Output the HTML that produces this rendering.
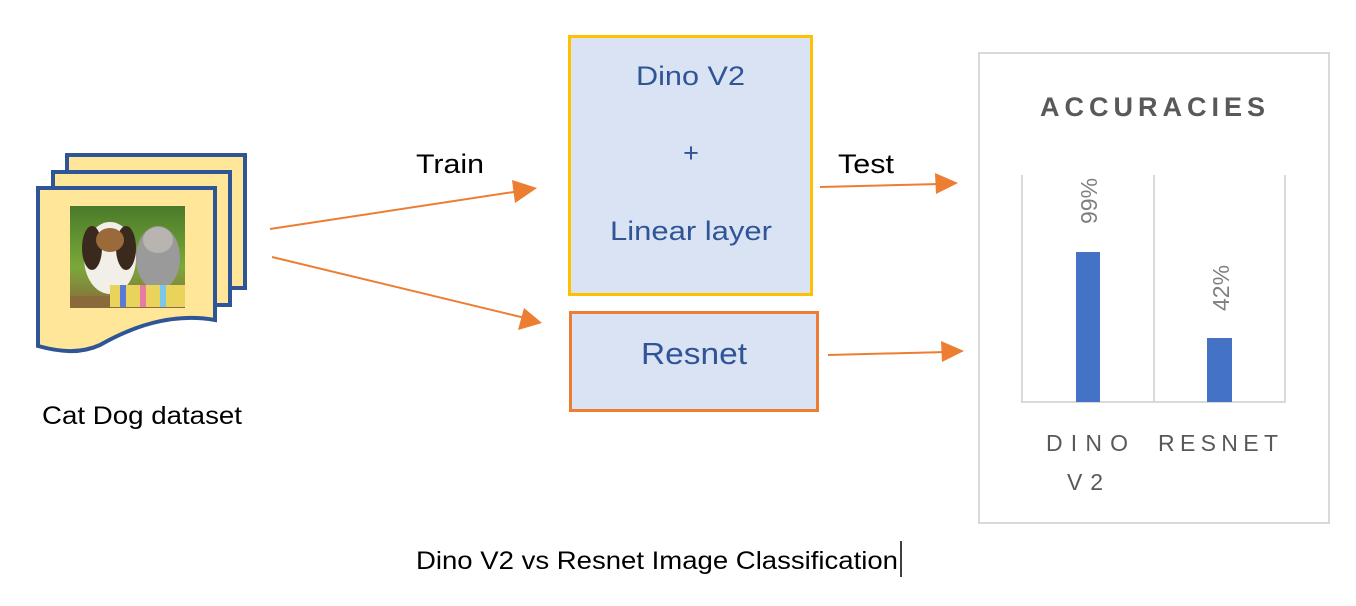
<!DOCTYPE html>
<html><head><meta charset="utf-8"><style>
html,body{margin:0;padding:0;background:#fff;width:1356px;height:606px;overflow:hidden}
svg text{font-family:"Liberation Sans",sans-serif}
</style></head><body>
<svg width="1356" height="606" viewBox="0 0 1356 606" xmlns="http://www.w3.org/2000/svg">
<defs>
<linearGradient id="bg" x1="0" y1="0" x2="0" y2="1"><stop offset="0" stop-color="#4a7a2a"/><stop offset="0.6" stop-color="#7aa83a"/><stop offset="1" stop-color="#8a6a3a"/></linearGradient>
</defs>
<path d="M67,155 H245 V288 H67 Z" fill="#FFE699" stroke="#2F5597" stroke-width="4"/>
<path d="M53,172 H230 V305 H53 Z" fill="#FFE699" stroke="#2F5597" stroke-width="4"/>
<path d="M38,188 H215 V320 C170,312 130,328 100,345 C80,354 60,352 38,346 Z" fill="#FFE699" stroke="#2F5597" stroke-width="4"/>
<rect x="70" y="206" width="115" height="102" fill="url(#bg)"/>
<ellipse cx="110" cy="258" rx="26" ry="36" fill="#f2efe9"/>
<ellipse cx="92" cy="248" rx="10" ry="22" fill="#3a2a1e"/>
<ellipse cx="126" cy="248" rx="10" ry="22" fill="#3a2a1e"/>
<ellipse cx="110" cy="240" rx="14" ry="12" fill="#9a6a3a"/>
<ellipse cx="158" cy="258" rx="22" ry="32" fill="#9a9a9a"/>
<ellipse cx="158" cy="240" rx="15" ry="13" fill="#b8b4b0"/>
<rect x="110" y="285" width="75" height="22" fill="#e9d35a"/>
<rect x="120" y="285" width="6" height="22" fill="#5a7ad8"/>
<rect x="140" y="285" width="6" height="22" fill="#e87aa8"/>
<rect x="160" y="285" width="6" height="22" fill="#7ac8e8"/>
<rect x="70" y="296" width="40" height="12" fill="#8a6a3a"/>
<text x="42" y="424" font-size="25" textLength="200" lengthAdjust="spacingAndGlyphs" fill="#000">Cat Dog dataset</text>
<g stroke="#ED7D31" stroke-width="2" fill="#ED7D31">
<line x1="270" y1="229" x2="520" y2="191"/>
<polygon points="537,188 515,203 512,180" stroke="none"/>
<line x1="272" y1="257" x2="525" y2="318"/>
<polygon points="542,323 518,330 524,308" stroke="none"/>
<line x1="820" y1="187" x2="940" y2="184"/>
<polygon points="958,183 936,194 935,173" stroke="none"/>
<line x1="828" y1="355" x2="946" y2="352"/>
<polygon points="964,351 942,362 941,341" stroke="none"/>
</g>
<text x="416" y="173" font-size="27" textLength="68" lengthAdjust="spacingAndGlyphs" fill="#000">Train</text>
<text x="838" y="173" font-size="27" textLength="56" lengthAdjust="spacingAndGlyphs" fill="#000">Test</text>
<rect x="569.5" y="36.5" width="242" height="258" fill="#DAE3F3" stroke="#FFC000" stroke-width="3"/>
<text x="636" y="85" font-size="27" textLength="109" lengthAdjust="spacingAndGlyphs" fill="#2F5597">Dino V2</text>
<text x="691" y="162" font-size="27" text-anchor="middle" fill="#2F5597">+</text>
<text x="610" y="240" font-size="27" textLength="162" lengthAdjust="spacingAndGlyphs" fill="#2F5597">Linear layer</text>
<rect x="570.5" y="312.5" width="247" height="98" fill="#DAE3F3" stroke="#ED7D31" stroke-width="3"/>
<text x="641" y="364" font-size="31" textLength="106" lengthAdjust="spacingAndGlyphs" fill="#2F5597">Resnet</text>
<rect x="979" y="53" width="350" height="470" fill="#fff" stroke="#D9D9D9" stroke-width="2"/>
<text x="1040" y="116" font-size="27" font-weight="bold" textLength="225" lengthAdjust="spacing" fill="#595959">ACCURACIES</text>
<g stroke="#D9D9D9" stroke-width="2">
<line x1="1022" y1="175" x2="1022" y2="403"/>
<line x1="1154" y1="175" x2="1154" y2="403"/>
<line x1="1285" y1="175" x2="1285" y2="403"/>
<line x1="1021" y1="402" x2="1286" y2="402"/>
</g>
<rect x="1076" y="252" width="24" height="150" fill="#4472C4"/>
<rect x="1207" y="338" width="25" height="64" fill="#4472C4"/>
<text transform="translate(1097,201) rotate(-90)" font-size="23" text-anchor="middle" fill="#7F7F7F">99%</text>
<text transform="translate(1229,288) rotate(-90)" font-size="23" text-anchor="middle" fill="#7F7F7F">42%</text>
<text x="1046" y="451" font-size="23" textLength="82" lengthAdjust="spacing" fill="#595959">DINO</text>
<text x="1067" y="490" font-size="23" textLength="36" lengthAdjust="spacing" fill="#595959">V2</text>
<text x="1158" y="451" font-size="23" textLength="120" lengthAdjust="spacing" fill="#595959">RESNET</text>
<text x="416" y="569" font-size="25" textLength="482" lengthAdjust="spacingAndGlyphs" fill="#000">Dino V2 vs Resnet Image Classification</text>
<line x1="901" y1="541" x2="901" y2="577" stroke="#000" stroke-width="1.5"/>
</svg>
</body></html>
